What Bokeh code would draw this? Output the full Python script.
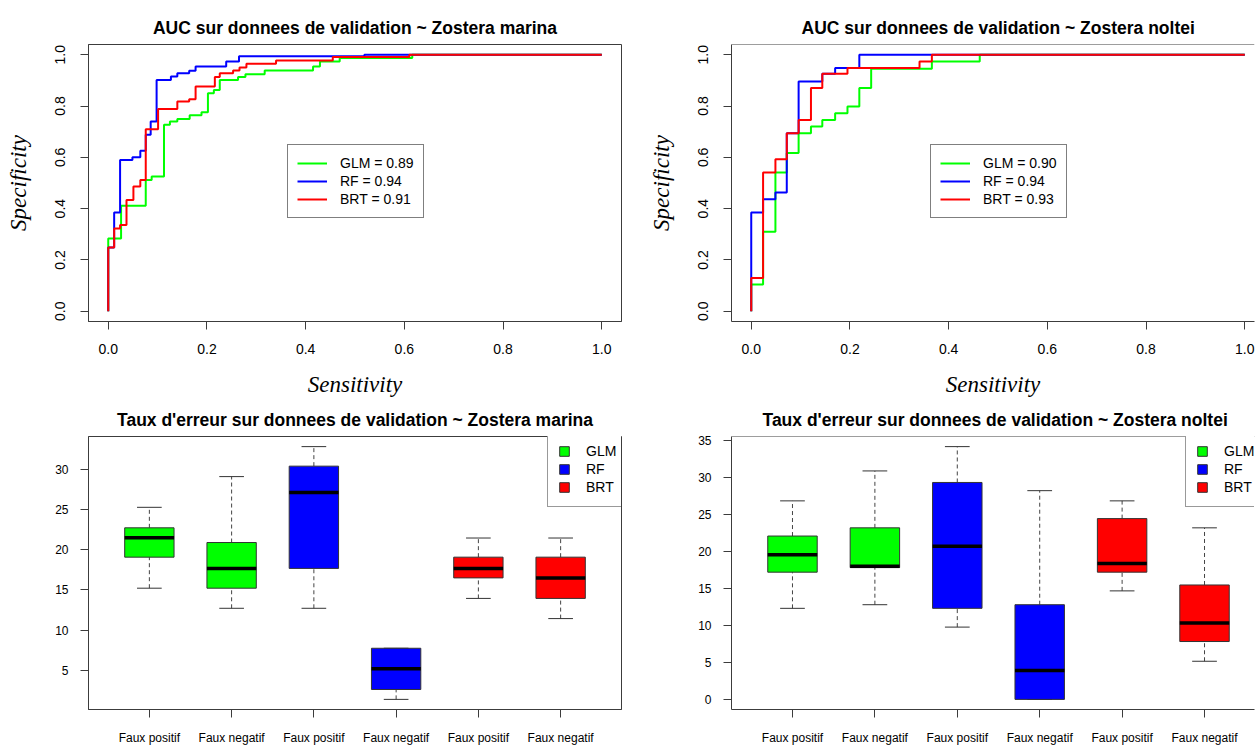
import math
from bokeh.plotting import figure
from bokeh.layouts import gridplot
from bokeh.models import Range1d, FixedTicker, PrintfTickFormatter, Legend, LegendItem, Span
from bokeh.embed import file_html
from bokeh.resources import INLINE

# ---------------- data ----------------
models = ["GLM", "RF", "BRT"]
model_colors = ["#00FF00", "#0000FF", "#FF0000"]

# ROC curves, Zostera marina (step corners: sensitivity, specificity)
marina_glm_x = [0, 0, 0.026, 0.076, 0.088, 0.113, 0.125, 0.140, 0.165, 0.189, 0.202, 0.214, 0.226, 0.263, 0.278, 0.317, 0.415, 0.429, 0.469, 0.616, 1.0]
marina_glm_y = [0, 0.284, 0.411, 0.512, 0.525, 0.727, 0.740, 0.750, 0.764, 0.776, 0.850, 0.863, 0.902, 0.913, 0.924, 0.939, 0.954, 0.974, 0.987, 1.0, 1.0]
marina_rf_x = [0, 0, 0.012, 0.024, 0.049, 0.065, 0.076, 0.086, 0.098, 0.127, 0.140, 0.164, 0.177, 0.239, 0.265, 0.519, 1.0]
marina_rf_y = [0, 0.249, 0.385, 0.590, 0.600, 0.626, 0.688, 0.740, 0.902, 0.915, 0.928, 0.938, 0.954, 0.974, 0.994, 1.0, 1.0]
marina_brt_x = [0, 0, 0.012, 0.024, 0.037, 0.051, 0.065, 0.076, 0.101, 0.140, 0.164, 0.177, 0.216, 0.226, 0.253, 0.266, 0.280, 0.340, 0.455, 0.610, 1.0]
marina_brt_y = [0, 0.249, 0.323, 0.336, 0.434, 0.486, 0.512, 0.710, 0.789, 0.818, 0.827, 0.876, 0.913, 0.928, 0.939, 0.950, 0.965, 0.978, 0.991, 1.0, 1.0]
marina_auc = [0.89, 0.94, 0.91]

# ROC curves, Zostera noltei
noltei_glm_x = [0, 0, 0.024, 0.049, 0.072, 0.096, 0.121, 0.144, 0.170, 0.195, 0.219, 0.243, 0.366, 0.463, 1.0]
noltei_glm_y = [0, 0.104, 0.310, 0.541, 0.617, 0.694, 0.720, 0.746, 0.772, 0.798, 0.870, 0.945, 0.974, 1.0, 1.0]
noltei_rf_x = [0, 0, 0.024, 0.049, 0.072, 0.096, 0.144, 0.170, 0.219, 1.0]
noltei_rf_y = [0, 0.385, 0.437, 0.463, 0.694, 0.896, 0.926, 0.948, 1.0, 1.0]
noltei_brt_x = [0, 0, 0.024, 0.049, 0.072, 0.096, 0.121, 0.144, 0.195, 0.341, 0.366, 1.0]
noltei_brt_y = [0, 0.130, 0.541, 0.593, 0.694, 0.746, 0.870, 0.926, 0.948, 0.974, 1.0, 1.0]
noltei_auc = [0.90, 0.94, 0.93]

roc_ticks = [0.0, 0.2, 0.4, 0.6, 0.8, 1.0]

# Error-rate boxplots
error_labels = ["Faux positif", "Faux negatif", "Faux positif", "Faux negatif", "Faux positif", "Faux negatif"]
box_model = ["GLM", "GLM", "RF", "RF", "BRT", "BRT"]

marina_low = [15.22, 12.72, 12.72, 1.39, 13.95, 11.44]
marina_q1 = [19.08, 15.22, 17.68, 2.62, 16.50, 13.95]
marina_med = [21.50, 17.68, 27.13, 5.20, 17.68, 16.50]
marina_q3 = [22.73, 20.90, 30.40, 7.75, 19.08, 19.08]
marina_high = [25.28, 29.10, 32.83, 7.75, 21.46, 21.46]

noltei_low = [12.32, 12.81, 9.78, 0.00, 14.68, 5.16]
noltei_q1 = [17.21, 17.83, 12.32, 0.00, 17.21, 7.83]
noltei_med = [19.57, 18.00, 20.72, 3.91, 18.37, 10.32]
noltei_q3 = [22.10, 23.21, 29.35, 12.81, 24.46, 15.48]
noltei_high = [26.86, 30.91, 34.20, 28.24, 26.86, 23.21]

# ---------------- styling ----------------
SANS = "Liberation Sans"
SERIF = "Liberation Serif"
AX = "#3c3c3c"
TOP_H = 400
BOT_H = 347
LEFT_W = 640
RIGHT_W = 615


def base_axes(p, tick_font):
    for ax in (p.xaxis[0], p.yaxis[0]):
        ax.axis_line_color = AX
        ax.major_tick_line_color = AX
        ax.minor_tick_line_color = None
        ax.major_tick_out = 8
        ax.major_tick_in = 0
        ax.major_label_text_font = SANS
        ax.major_label_text_font_size = tick_font
        ax.major_label_text_color = "black"
    p.xgrid.visible = False
    p.ygrid.visible = False
    p.background_fill_color = "white"
    p.border_fill_color = "white"


def set_title(p, text, align, offset, standoff):
    p.title.text = text
    p.title.text_font = SANS
    p.title.text_font_style = "bold"
    p.title.text_font_size = "17.5px"
    p.title.text_color = "black"
    p.title.align = align
    p.title.offset = offset
    p.title.standoff = standoff


def roc_panel(title, curves, aucs, width, b_left, b_right, frame_w, cut, t_align, t_off):
    px_per_unit = 533 / 1.08
    x_end = -0.04 + frame_w / px_per_unit
    p = figure(width=width, height=TOP_H,
               x_range=Range1d(-0.04, x_end), y_range=Range1d(-0.04, 1.04),
               min_border_left=b_left, min_border_right=b_right,
               min_border_top=44, min_border_bottom=TOP_H - 44 - 277,
               output_backend="svg", toolbar_location=None)
    base_axes(p, "14px")
    set_title(p, title, t_align, t_off, 13)
    p.xaxis.ticker = FixedTicker(ticks=roc_ticks)
    p.yaxis.ticker = FixedTicker(ticks=roc_ticks)
    p.xaxis.formatter = PrintfTickFormatter(format="%.1f")
    p.yaxis.formatter = PrintfTickFormatter(format="%.1f")
    p.yaxis.major_label_orientation = "vertical"
    p.xaxis.major_label_standoff = 14
    p.yaxis.major_label_standoff = 15
    p.xaxis.axis_label = "Sensitivity"
    p.yaxis.axis_label = "Specificity"
    for ax in (p.xaxis[0], p.yaxis[0]):
        ax.axis_label_text_font = SERIF
        ax.axis_label_text_font_style = "italic"
        ax.axis_label_text_font_size = "23px"
        ax.axis_label_text_color = "black"
    p.xaxis.axis_label_standoff = 15
    p.yaxis.axis_label_standoff = 22
    items = []
    for (xs, ys), name, col, auc in zip(curves, models, model_colors, aucs):
        r = p.step(xs, ys, mode="after", line_color=col, line_width=2)
        items.append(LegendItem(label=f"{name} = {auc:.2f}", renderers=[r]))
    leg = Legend(items=items, location=(199, 103), padding=9, spacing=0,
                 label_height=18, glyph_height=18, glyph_width=30, label_standoff=13,
                 label_text_font=SANS, label_text_font_size="14px", label_text_color="black",
                 border_line_color="black", border_line_width=1, margin=0,
                 background_fill_color="white", background_fill_alpha=1)
    p.add_layout(leg)
    if cut:
        p.outline_line_color = None
        p.add_layout(Span(location=1.04, dimension="width", line_color=AX, line_width=1))
    else:
        p.outline_line_color = AX
    return p


def box_panel(title, low, q1, med, q3, high, width, b_left, b_right, frame_w, cut, t_align, t_off, leg_x):
    pos = list(range(1, len(error_labels) + 1))
    px_per_unit = 534 / 6.48
    x_end = 0.26 + frame_w / px_per_unit
    dmin, dmax = min(low), max(high)
    ext = 0.04 * (dmax - dmin)
    ymin, ymax = dmin - ext, dmax + ext
    p = figure(width=width, height=BOT_H,
               x_range=Range1d(0.26, x_end), y_range=Range1d(ymin, ymax),
               min_border_left=b_left, min_border_right=b_right,
               min_border_top=36, min_border_bottom=BOT_H - 36 - 276,
               output_backend="svg", toolbar_location=None)
    base_axes(p, "12px")
    set_title(p, title, t_align, t_off, 13)
    p.xaxis.ticker = FixedTicker(ticks=pos)
    p.xaxis.major_label_overrides = {i: lab for i, lab in zip(pos, error_labels)}
    yt = [v for v in range(0, 60, 5) if ymin <= v <= ymax]
    p.yaxis.ticker = FixedTicker(ticks=yt)
    p.xaxis.major_label_standoff = 13
    p.yaxis.major_label_standoff = 12
    # whiskers (dashed)
    p.segment(x0=pos, y0=q3, x1=pos, y1=high, line_color="#444444", line_width=1, line_dash="4 3")
    p.segment(x0=pos, y0=low, x1=pos, y1=q1, line_color="#444444", line_width=1, line_dash="4 3")
    # caps
    p.segment(x0=[x - 0.15 for x in pos], y0=high, x1=[x + 0.15 for x in pos], y1=high, line_color="#333333", line_width=1)
    p.segment(x0=[x - 0.15 for x in pos], y0=low, x1=[x + 0.15 for x in pos], y1=low, line_color="#333333", line_width=1)
    items = []
    for name, col in zip(models, model_colors):
        idx = [i for i, m in enumerate(box_model) if m == name]
        r = p.quad(left=[pos[i] - 0.3 for i in idx], right=[pos[i] + 0.3 for i in idx],
                   bottom=[q1[i] for i in idx], top=[q3[i] for i in idx],
                   fill_color=col, line_color="#333333", line_width=1)
        items.append(LegendItem(label=name, renderers=[r]))
    p.segment(x0=[x - 0.3 for x in pos], y0=med, x1=[x + 0.3 for x in pos], y1=med, line_color="black", line_width=3.5)
    leg = Legend(items=items, location=(leg_x, 276 - 74), padding=10, spacing=0,
                 label_height=18, glyph_height=12, glyph_width=12, label_standoff=16,
                 label_text_font=SANS, label_text_font_size="14px", label_text_color="black",
                 border_line_color="#333333", border_line_width=1, margin=0,
                 background_fill_color="white", background_fill_alpha=1)
    p.add_layout(leg)
    if cut:
        p.outline_line_color = None
        p.add_layout(Span(location=ymax, dimension="width", line_color=AX, line_width=1))
    else:
        p.outline_line_color = AX
    return p


p1 = roc_panel("AUC sur donnees de validation ~ Zostera marina",
               [(marina_glm_x, marina_glm_y), (marina_rf_x, marina_rf_y), (marina_brt_x, marina_brt_y)],
               marina_auc, LEFT_W, 88, 19, 533, False, "center", 0)
p2 = roc_panel("AUC sur donnees de validation ~ Zostera noltei",
               [(noltei_glm_x, noltei_glm_y), (noltei_rf_x, noltei_rf_y), (noltei_brt_x, noltei_brt_y)],
               noltei_auc, RIGHT_W, 91, 1, 523, True, "left", 70)
p3 = box_panel("Taux d'erreur sur donnees de validation ~ Zostera marina",
               marina_low, marina_q1, marina_med, marina_q3, marina_high,
               LEFT_W, 88, 18, 534, False, "center", 0, 459)
p4 = box_panel("Taux d'erreur sur donnees de validation ~ Zostera noltei",
               noltei_low, noltei_q1, noltei_med, noltei_q3, noltei_high,
               RIGHT_W, 91, 1, 523, True, "left", 31, 454)

layout = gridplot([[p1, p2], [p3, p4]], toolbar_location=None)
open("out.html", "w").write(file_html(layout, INLINE))
